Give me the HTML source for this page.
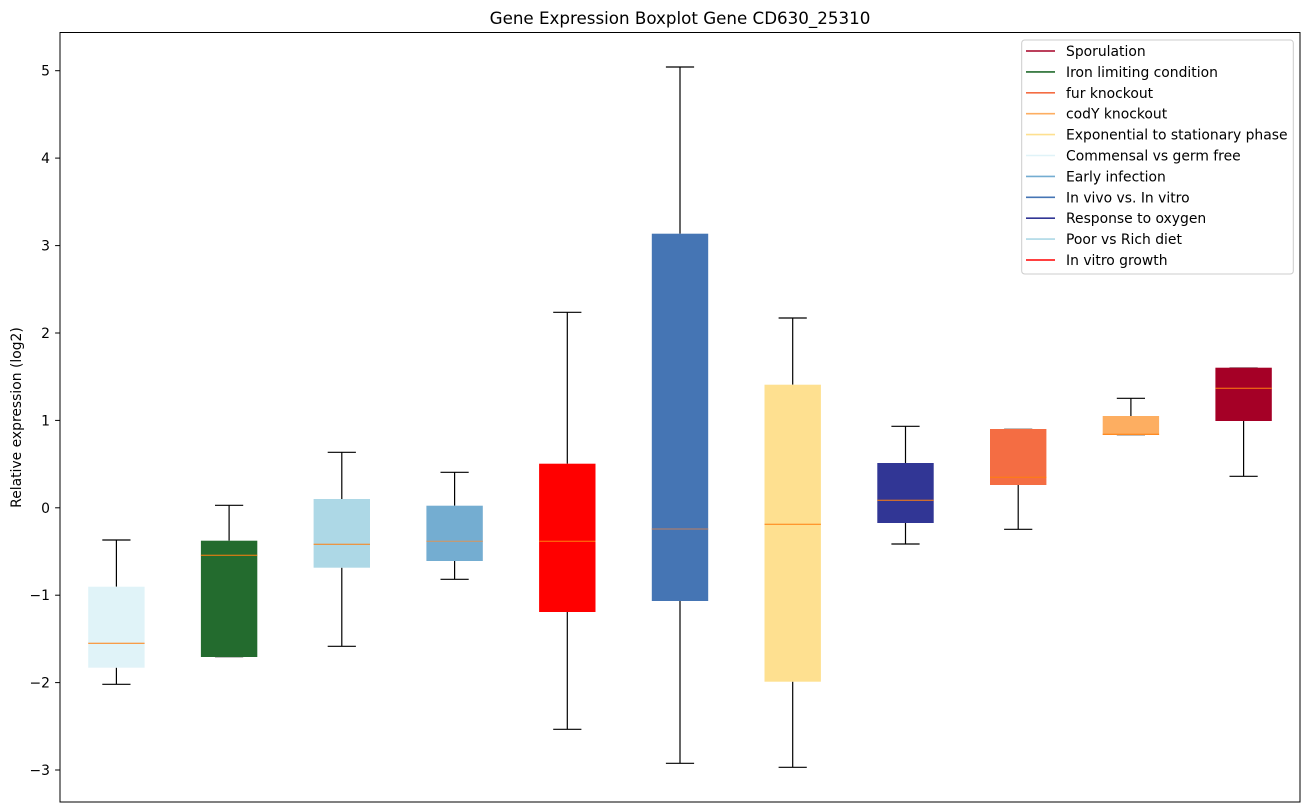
<!DOCTYPE html>
<html>
<head>
<meta charset="utf-8">
<style>
  html, body { margin: 0; padding: 0; background: #ffffff; }
  svg { display: block; }
  text { font-family: "DejaVu Sans", "Liberation Sans", sans-serif; fill: #000; }
</style>
</head>
<body>
<svg width="1309" height="812" viewBox="0 0 1309 812" xmlns="http://www.w3.org/2000/svg">
  <rect x="0" y="0" width="1309" height="812" fill="#ffffff"/>

  <!-- Title -->
  <text x="680" y="24" font-size="16.7" text-anchor="middle">Gene Expression Boxplot Gene CD630_25310</text>

  <!-- Y label -->
  <text x="0" y="0" font-size="13.9" text-anchor="middle" transform="translate(21,417.5) rotate(-90)">Relative expression (log2)</text>

  <!-- Y ticks -->
  <g stroke="#000" stroke-width="1">
    <line x1="55.1" y1="70.7" x2="60" y2="70.7"/>
    <line x1="55.1" y1="158.1" x2="60" y2="158.1"/>
    <line x1="55.1" y1="245.6" x2="60" y2="245.6"/>
    <line x1="55.1" y1="333.0" x2="60" y2="333.0"/>
    <line x1="55.1" y1="420.4" x2="60" y2="420.4"/>
    <line x1="55.1" y1="507.8" x2="60" y2="507.8"/>
    <line x1="55.1" y1="595.2" x2="60" y2="595.2"/>
    <line x1="55.1" y1="682.6" x2="60" y2="682.6"/>
    <line x1="55.1" y1="770.0" x2="60" y2="770.0"/>
  </g>
  <g font-size="13.9" text-anchor="end">
    <text x="50" y="75.7">5</text>
    <text x="50" y="163.1">4</text>
    <text x="50" y="250.6">3</text>
    <text x="50" y="338.0">2</text>
    <text x="50" y="425.4">1</text>
    <text x="50" y="512.8">0</text>
    <text x="50" y="600.2">−1</text>
    <text x="50" y="687.6">−2</text>
    <text x="50" y="775.0">−3</text>
  </g>

  <!-- Boxes -->
  <g stroke-width="1.2">
    <!-- 1 Commensal -->
    <line x1="116.4" y1="540" x2="116.4" y2="586.7" stroke="#000"/>
    <line x1="116.4" y1="667.7" x2="116.4" y2="684.3" stroke="#000"/>
    <line x1="102.3" y1="540" x2="130.5" y2="540" stroke="#000"/>
    <line x1="102.3" y1="684.3" x2="130.5" y2="684.3" stroke="#000"/>
    <rect x="88.2" y="586.7" width="56.4" height="81" fill="#e0f3f8" stroke="none"/>
    <line x1="88.2" y1="643.3" x2="144.6" y2="643.3" stroke="#ff7f0e" stroke-width="1"/>

    <!-- 2 Iron -->
    <line x1="229.1" y1="505.3" x2="229.1" y2="540.7" stroke="#000"/>
    <line x1="215" y1="505.3" x2="243.2" y2="505.3" stroke="#000"/>
    <line x1="215" y1="657" x2="243.2" y2="657" stroke="#999"/>
    <rect x="200.9" y="540.7" width="56.4" height="116.3" fill="#236b2e" stroke="none"/>
    <line x1="200.9" y1="555.3" x2="257.3" y2="555.3" stroke="#ff7f0e" stroke-width="1"/>

    <!-- 3 Poor vs Rich -->
    <line x1="341.8" y1="452.3" x2="341.8" y2="499" stroke="#000"/>
    <line x1="341.8" y1="567.7" x2="341.8" y2="646.3" stroke="#000"/>
    <line x1="327.7" y1="452.3" x2="355.9" y2="452.3" stroke="#000"/>
    <line x1="327.7" y1="646.3" x2="355.9" y2="646.3" stroke="#000"/>
    <rect x="313.6" y="499" width="56.4" height="68.7" fill="#add8e6" stroke="none"/>
    <line x1="313.6" y1="544.3" x2="370" y2="544.3" stroke="#ff7f0e" stroke-width="1"/>

    <!-- 4 Early infection -->
    <line x1="454.6" y1="472.3" x2="454.6" y2="505.7" stroke="#000"/>
    <line x1="454.6" y1="561" x2="454.6" y2="579.3" stroke="#000"/>
    <line x1="440.5" y1="472.3" x2="468.7" y2="472.3" stroke="#000"/>
    <line x1="440.5" y1="579.3" x2="468.7" y2="579.3" stroke="#000"/>
    <rect x="426.4" y="505.7" width="56.4" height="55.3" fill="#74add1" stroke="none"/>
    <line x1="426.4" y1="541.3" x2="482.8" y2="541.3" stroke="#d9955a" stroke-width="1"/>

    <!-- 5 In vitro growth -->
    <line x1="567.3" y1="312.3" x2="567.3" y2="463.7" stroke="#000"/>
    <line x1="567.3" y1="612" x2="567.3" y2="729.3" stroke="#000"/>
    <line x1="553.2" y1="312.3" x2="581.4" y2="312.3" stroke="#000"/>
    <line x1="553.2" y1="729.3" x2="581.4" y2="729.3" stroke="#000"/>
    <rect x="539.1" y="463.7" width="56.4" height="148.3" fill="#ff0000" stroke="none"/>
    <line x1="539.1" y1="541.3" x2="595.5" y2="541.3" stroke="#ff7f0e" stroke-width="1"/>

    <!-- 6 In vivo -->
    <line x1="680" y1="67" x2="680" y2="233.7" stroke="#000"/>
    <line x1="680" y1="601" x2="680" y2="763.3" stroke="#000"/>
    <line x1="665.9" y1="67" x2="694.1" y2="67" stroke="#000"/>
    <line x1="665.9" y1="763.3" x2="694.1" y2="763.3" stroke="#000"/>
    <rect x="651.8" y="233.7" width="56.4" height="367.3" fill="#4575b4" stroke="none"/>
    <line x1="651.8" y1="529" x2="708.2" y2="529" stroke="#c08060" stroke-width="1"/>

    <!-- 7 Exponential -->
    <line x1="792.7" y1="318" x2="792.7" y2="384.7" stroke="#000"/>
    <line x1="792.7" y1="681.7" x2="792.7" y2="767.3" stroke="#000"/>
    <line x1="778.6" y1="318" x2="806.8" y2="318" stroke="#000"/>
    <line x1="778.6" y1="767.3" x2="806.8" y2="767.3" stroke="#000"/>
    <rect x="764.5" y="384.7" width="56.4" height="297" fill="#fee090" stroke="none"/>
    <line x1="764.5" y1="524.3" x2="820.9" y2="524.3" stroke="#ff7f0e" stroke-width="1"/>

    <!-- 8 Response to oxygen -->
    <line x1="905.5" y1="426.3" x2="905.5" y2="463" stroke="#000"/>
    <line x1="905.5" y1="523" x2="905.5" y2="544" stroke="#000"/>
    <line x1="891.4" y1="426.3" x2="919.6" y2="426.3" stroke="#000"/>
    <line x1="891.4" y1="544" x2="919.6" y2="544" stroke="#000"/>
    <rect x="877.3" y="463" width="56.4" height="60" fill="#313695" stroke="none"/>
    <line x1="877.3" y1="500.3" x2="933.7" y2="500.3" stroke="#ff7f0e" stroke-width="1"/>

    <!-- 9 fur knockout -->
    <line x1="1018.2" y1="485" x2="1018.2" y2="529.3" stroke="#000"/>
    <line x1="1004.1" y1="429" x2="1032.3" y2="429" stroke="#999"/>
    <line x1="1004.1" y1="529.3" x2="1032.3" y2="529.3" stroke="#000"/>
    <rect x="990" y="429" width="56.4" height="56" fill="#f46d43" stroke="none"/>
    <line x1="990" y1="477.3" x2="1046.4" y2="477.3" stroke="#ff7f0e" stroke-width="1"/>

    <!-- 10 codY knockout -->
    <line x1="1130.9" y1="398.3" x2="1130.9" y2="416" stroke="#000"/>
    <line x1="1116.8" y1="398.3" x2="1145" y2="398.3" stroke="#000"/>
    <line x1="1116.8" y1="435" x2="1145" y2="435" stroke="#999"/>
    <rect x="1102.7" y="416" width="56.4" height="19" fill="#fdae61" stroke="none"/>
    <line x1="1102.7" y1="434.3" x2="1159.1" y2="434.3" stroke="#ff7f0e" stroke-width="1"/>

    <!-- 11 Sporulation -->
    <line x1="1243.6" y1="421" x2="1243.6" y2="476.3" stroke="#000"/>
    <line x1="1229.5" y1="367.7" x2="1257.7" y2="367.7" stroke="#999"/>
    <line x1="1229.5" y1="476.3" x2="1257.7" y2="476.3" stroke="#000"/>
    <rect x="1215.4" y="367.7" width="56.4" height="53.3" fill="#a50026" stroke="none"/>
    <line x1="1215.4" y1="388.3" x2="1271.8" y2="388.3" stroke="#ff7f0e" stroke-width="1"/>
  </g>

  <!-- Axes frame -->
  <rect x="60" y="32.5" width="1240" height="769.5" fill="none" stroke="#000" stroke-width="1"/>

  <!-- Legend -->
  <rect x="1021.7" y="40" width="271.6" height="234" rx="3" ry="3" fill="#ffffff" fill-opacity="0.8" stroke="#cccccc" stroke-width="1"/>
  <g stroke-width="1.6">
    <line x1="1026" y1="51" x2="1055" y2="51" stroke="#a50026"/>
    <line x1="1026" y1="71.9" x2="1055" y2="71.9" stroke="#236b2e"/>
    <line x1="1026" y1="92.8" x2="1055" y2="92.8" stroke="#f46d43"/>
    <line x1="1026" y1="113.7" x2="1055" y2="113.7" stroke="#fdae61"/>
    <line x1="1026" y1="134.6" x2="1055" y2="134.6" stroke="#fee090"/>
    <line x1="1026" y1="155.5" x2="1055" y2="155.5" stroke="#e0f3f8"/>
    <line x1="1026" y1="176.4" x2="1055" y2="176.4" stroke="#74add1"/>
    <line x1="1026" y1="197.3" x2="1055" y2="197.3" stroke="#4575b4"/>
    <line x1="1026" y1="218.2" x2="1055" y2="218.2" stroke="#313695"/>
    <line x1="1026" y1="239.1" x2="1055" y2="239.1" stroke="#add8e6"/>
    <line x1="1026" y1="260" x2="1055" y2="260" stroke="#ff0000"/>
  </g>
  <g font-size="13.9">
    <text x="1066" y="56">Sporulation</text>
    <text x="1066" y="76.9">Iron limiting condition</text>
    <text x="1066" y="97.8">fur knockout</text>
    <text x="1066" y="118.7">codY knockout</text>
    <text x="1066" y="139.6">Exponential to stationary phase</text>
    <text x="1066" y="160.5">Commensal vs germ free</text>
    <text x="1066" y="181.4">Early infection</text>
    <text x="1066" y="202.3">In vivo vs. In vitro</text>
    <text x="1066" y="223.2">Response to oxygen</text>
    <text x="1066" y="244.1">Poor vs Rich diet</text>
    <text x="1066" y="265">In vitro growth</text>
  </g>
</svg>
</body>
</html>
